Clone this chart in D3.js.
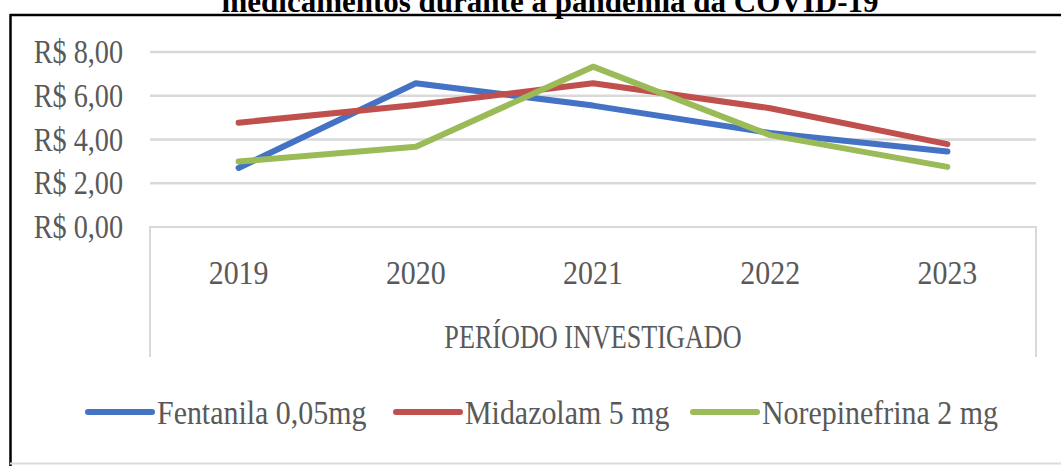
<!DOCTYPE html>
<html>
<head>
<meta charset="utf-8">
<script src="https://cdn.jsdelivr.net/npm/d3@7"></script>
<style>
  html, body { margin: 0; padding: 0; background: #fff; }
  svg { display: block; }
</style>
</head>
<body>
<div id="chart"></div>
<script>
// data
const years = ['2019', '2020', '2021', '2022', '2023'];
const seriesNames = ['Fentanila 0,05mg', 'Midazolam 5 mg', 'Norepinefrina 2 mg'];
const fentanila = [2.70, 6.57, 5.55, 4.30, 3.45];
const midazolam = [4.77, 5.58, 6.57, 5.43, 3.79];
const norepinefrina = [2.99, 3.67, 7.33, 4.20, 2.75];
const yTicks = [0, 2, 4, 6, 8];
const colors = ['#4472C4', '#C0504D', '#9BBB59'];

const titleText = 'medicamentos durante a pandemia da COVID-19';
const axisTitle = 'PERÍODO INVESTIGADO';

const width = 1061, height = 466;
const plot = { left: 150, right: 1036, top: 52, bottom: 227 };
const textColor = '#595959';
const gridColor = '#d9d9d9';
const serif = "'Liberation Serif', 'DejaVu Serif', serif";
const fontSize = 34;

const svg = d3.select('#chart').append('svg')
    .attr('width', width).attr('height', height);

svg.append('rect').attr('width', width).attr('height', height).attr('fill', '#fff');

// caption above the figure, cut at the top like the source
svg.append('text')
    .attr('x', 550).attr('y', 12)
    .attr('text-anchor', 'middle')
    .attr('font-family', serif)
    .attr('font-weight', 'bold')
    .attr('font-size', 31)
    .attr('fill', '#000')
    .text(titleText);

// frame
svg.append('line').attr('x1', 10).attr('x2', width).attr('y1', 15).attr('y2', 15)
    .attr('stroke', '#000').attr('stroke-width', 2.5);
svg.append('line').attr('x1', 10.5).attr('x2', 10.5).attr('y1', 14).attr('y2', height)
    .attr('stroke', '#000').attr('stroke-width', 2.5);
svg.append('line').attr('x1', 10).attr('x2', width).attr('y1', 463.5).attr('y2', 463.5)
    .attr('stroke', '#dcdcdc').attr('stroke-width', 2);

const x = d3.scaleBand().domain(years).range([plot.left, plot.right]);
const y = d3.scaleLinear().domain([0, 8]).range([plot.bottom, plot.top]);

// gridlines
svg.append('g').selectAll('line')
    .data(yTicks.filter(t => t > 0))
    .join('line')
    .attr('x1', plot.left).attr('x2', plot.right)
    .attr('y1', d => y(d)).attr('y2', d => y(d))
    .attr('stroke', gridColor).attr('stroke-width', 2.5);

// category axis box
const boxBottom = 357;
svg.append('path')
    .attr('d', `M${plot.left},${boxBottom}V${y(0)}H${plot.right}V${boxBottom}`)
    .attr('fill', 'none').attr('stroke', gridColor).attr('stroke-width', 2);

// y tick labels
const yAxisG = svg.append('g')
    .attr('font-family', serif).attr('font-size', fontSize).attr('fill', textColor);
yAxisG.selectAll('text')
    .data(yTicks)
    .join('text')
    .attr('text-anchor', 'end')
    .attr('transform', d => `translate(123,${y(d) + 11}) scale(0.83,1)`)
    .text(d => 'R$ ' + d3.format('.2f')(d).replace('.', ','));

// x tick labels
const xAxisG = svg.append('g')
    .attr('font-family', serif).attr('font-size', fontSize).attr('fill', textColor);
xAxisG.selectAll('text')
    .data(years)
    .join('text')
    .attr('text-anchor', 'middle')
    .attr('transform', d => `translate(${x(d) + x.bandwidth() / 2},284) scale(0.88,1)`)
    .text(d => d);

svg.append('text')
    .attr('text-anchor', 'middle')
    .attr('transform', `translate(${(plot.left + plot.right) / 2},348) scale(0.77,1)`)
    .attr('font-family', serif).attr('font-size', fontSize).attr('fill', textColor)
    .text(axisTitle);

// lines
const seriesValues = [fentanila, midazolam, norepinefrina];
const line = d3.line()
    .x((d, i) => x(years[i]) + x.bandwidth() / 2)
    .y(d => y(d));

svg.append('g').selectAll('path')
    .data(seriesValues)
    .join('path')
    .attr('d', d => line(d))
    .attr('fill', 'none')
    .attr('stroke', (d, i) => colors[i])
    .attr('stroke-width', 6)
    .attr('stroke-linejoin', 'round')
    .attr('stroke-linecap', 'round');

// legend
const legendX = [88, 396, 693];
const legendY = 412;
const legend = svg.append('g').selectAll('g')
    .data(seriesNames)
    .join('g')
    .attr('transform', (d, i) => `translate(${legendX[i]},${legendY})`);
legend.append('line')
    .attr('x1', 0).attr('x2', 64)
    .attr('stroke', (d, i) => colors[i])
    .attr('stroke-width', 6)
    .attr('stroke-linecap', 'round');
legend.append('text')
    .attr('transform', `translate(69,12) scale(0.88,1)`)
    .attr('font-family', serif).attr('font-size', fontSize).attr('fill', textColor)
    .text(d => d);
</script>
</body>
</html>
